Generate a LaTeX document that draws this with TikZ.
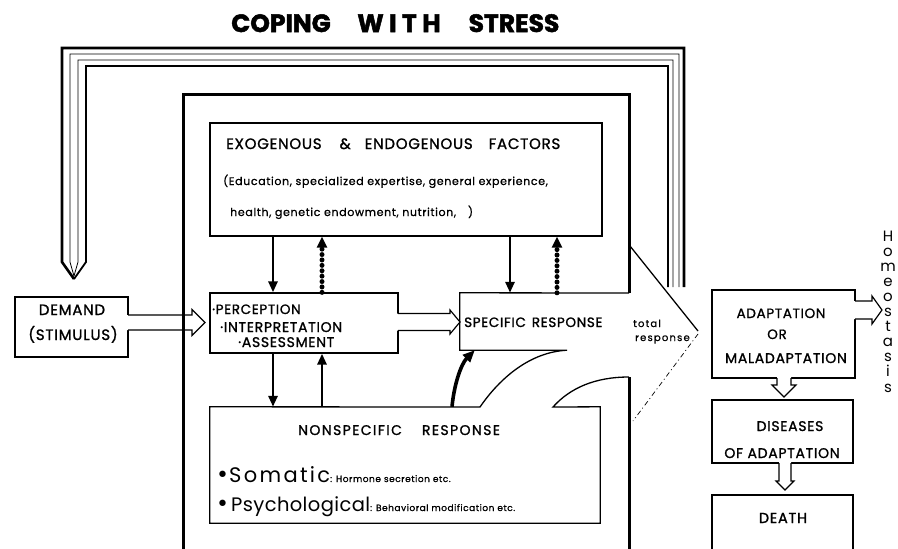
\documentclass[tikz,border=0pt]{standalone}
\usepackage{fontspec}
\setmainfont{Poppins}
\newfontfamily\capsA[LetterSpace=5,FakeBold=1.2]{Poppins}
\newfontfamily\capsB[LetterSpace=10,FakeBold=1.2]{Poppins}
\newfontfamily\smallA[LetterSpace=6,FakeBold=0.8]{Poppins}
\newfontfamily\smallB[LetterSpace=12,FakeBold=0.6]{Poppins}
\newfontfamily\bigA[LetterSpace=11]{Poppins}
\newfontfamily\bigB[LetterSpace=2]{Poppins}
\newfontfamily\bulletfont{DejaVu Sans}
\newfontfamily\heavy[BoldFeatures={FakeBold=2}]{Poppins}
\newfontfamily\heavyW[LetterSpace=22,BoldFeatures={FakeBold=2,LetterSpace=22}]{Poppins}
\usetikzlibrary{arrows.meta,fit}
\newcommand\fsz[1]{\fontsize{#1}{#1}\selectfont}
\newcommand\bul{{\bulletfont\fsz{22}•}}
% horizontal hollow arrow: x0, xtip, y, half band, half head, head length
\newcommand\hollowH[6]{%
  \fill[white] ({#1-1},{#3-#4}) -- ({#2-#6},{#3-#4}) -- ({#2-#6},{#3-#5}) -- (#2,#3) -- ({#2-#6},{#3+#5}) -- ({#2-#6},{#3+#4}) -- ({#1-1},{#3+#4}) -- cycle;
  \draw[hol] (#1,{#3-#4}) -- ({#2-#6},{#3-#4}) -- ({#2-#6},{#3-#5}) -- (#2,#3) -- ({#2-#6},{#3+#5}) -- ({#2-#6},{#3+#4}) -- (#1,{#3+#4});}
% vertical hollow arrow: x, y0, ytip, half band, half head, head length
\newcommand\hollowV[6]{%
  \fill[white] ({#1-#4},{#2-1}) -- ({#1-#4},{#3-#6}) -- ({#1-#5},{#3-#6}) -- (#1,#3) -- ({#1+#5},{#3-#6}) -- ({#1+#4},{#3-#6}) -- ({#1+#4},{#2-1}) -- cycle;
  \draw[hol] ({#1-#4},#2) -- ({#1-#4},{#3-#6}) -- ({#1-#5},{#3-#6}) -- (#1,#3) -- ({#1+#5},{#3-#6}) -- ({#1+#4},{#3-#6}) -- ({#1+#4},#2);}
\begin{document}
\begin{tikzpicture}[x=1pt,y=-1pt,
  box/.style={draw, line width=1.3pt, inner sep=0pt},
  ln/.style={line width=1.3pt, line join=miter},
  frame/.style={line width=3pt},
  tx/.style={inner sep=0pt, anchor=base},
  txw/.style={inner sep=0pt, anchor=base west},
  sarr/.style={line width=2.8pt, -{Triangle[width=9pt,length=11pt]}},
  barr/.style={line width=5pt, line cap=round, dash pattern=on 0pt off 5.4pt, -{Triangle[width=10pt,length=11pt]}},
  hol/.style={line width=1.2pt, line join=miter},
]
\useasboundingbox (0,0) rectangle (898,549);
\clip (0,0) rectangle (898,549);
\fill[white] (0,0) rectangle (898,549);

% title
\node[tx] (t1) at (281,32) {\heavy\fsz{25}\bfseries COPING};
\node[tx] (t2) at (399,32) {\heavyW\fsz{25}\bfseries WITH};
\node[tx] (t3) at (514,32) {\heavy\fsz{25}\bfseries STRESS};

% feedback band
\draw[line width=2.6pt] (684,287) -- (684,48) -- (62,48) -- (62,262) -- (74,279);
\draw[line width=0.8pt] (679,287) -- (679,54) -- (70,54) -- (70,262) -- (74,276);
\draw[line width=0.8pt] (673,287) -- (673,60) -- (78,60) -- (78,262) -- (74,276);
\draw[line width=1.8pt] (668,287) -- (668,66) -- (86,66) -- (86,262) -- (74,279);

% boxes
\node[box, fit={(210,123)(602,236)}] (exo) {};
\node[box, fit={(15,297)(128,357)}] (demand) {};
\node[box, fit={(210,293)(398,353)}] (perc) {};
\node[inner sep=0pt, fit={(460,293)(567,350)}] (spec) {};
\node[inner sep=0pt, fit={(210,407)(600,523)}] (nons) {};
\node[box, fit={(712,290)(855,378)}] (adapt) {};
\node[box, fit={(712,400)(853,463)}] (dis) {};
\node[box, fit={(712,495)(853,560)}] (death) {};

% specific response / total response shape and nonspecific box
\draw[ln] (629,293) -- (spec.north west) -- (spec.south west) -- (spec.south east)
  .. controls (530,352) and (500,378) .. (480,407) -- (nons.north west) -- (nons.south west)
  -- (nons.south east) -- (nons.north east) -- (553,407) .. controls (570,388) and (595,377) .. (629,377);
\draw[ln] (630,246) -- (698,331);
\draw[line width=0.7pt, dash pattern=on 5pt off 3pt on 1pt off 3pt] (698,334) -- (633,421);

% hollow arrows
\hollowH{128}{205}{322.5}{7.5}{13}{13}
\hollowH{398}{460}{322}{8.5}{12}{10}
\hollowH{855}{882}{310}{9}{14}{10}
\hollowV{784}{378}{397}{7}{12}{12}
\hollowV{785}{463}{490}{6}{9}{9}

% thick frame
\draw[frame] (183,549) -- (183,94) -- (629,94) -- (629,293);
\draw[frame] (629,377) -- (629,549);

% vertical arrows
\coordinate (xa) at (273,0);
\coordinate (xb) at (322,0);
\coordinate (xc) at (510,0);
\coordinate (xd) at (557,0);
\coordinate (xe) at (452,0);
\draw[sarr] (xa |- exo.south) -- (xa |- perc.north);
\draw[barr] (xb |- perc.north) -- (xb |- exo.south);
\draw[sarr] (xc |- exo.south) -- (xc |- spec.north);
\draw[barr] (xd |- spec.north) -- (xd |- exo.south);
\draw[sarr] (xa |- perc.south) -- (xa |- nons.north);
\draw[sarr] (xb |- nons.north) -- (xb |- perc.south);
\draw[line width=3.6pt, -{Triangle[width=10pt,length=12pt]}] (xe |- nons.north) .. controls (454,385) and (461,364) .. ([xshift=15pt]spec.south west);

% texts
\node[txw] (e1) at (226,149) {\capsA\fsz{15}EXOGENOUS\hspace{18pt}\&\hspace{14pt}ENDOGENOUS\hspace{16pt}FACTORS};
\node[txw] (e2) at (223,185) {\smallA\fsz{11}(Education, specialized expertise, general experience,};
\node[txw] (e3) at (230,216) {\smallA\fsz{11}health, genetic endowment, nutrition,\hspace{12pt})};

\node[tx] (d1) at (72,315) {\capsA\fsz{15}DEMAND};
\node[tx] (d2) at (73,340) {\capsA\fsz{15}(STIMULUS)};

\node[txw] (p1) at (212,314) {\capsA\fsz{13.5}·PERCEPTION};
\node[txw] (p2) at (220,332) {\capsA\fsz{14}·INTERPRETATION};
\node[txw] (p3) at (238,347) {\capsA\fsz{14}·ASSESSMENT};

\node[txw] (s1) at (464,327) {\capsA\fsz{13.5}SPECIFIC\hspace{6pt}RESPONSE};
\node[txw] (r1) at (633,327) {\smallB\fsz{10}total};
\node[txw] (r2) at (635,341) {\smallB\fsz{10}response};

\node[txw] (n1) at (298,435) {\capsB\fsz{14}NONSPECIFIC\hspace{20pt}RESPONSE};
\node[txw] (n2) at (216,482) {\bul\bigA\fsz{21}Somatic\smallA\fsz{9}: Hormone secretion etc.};
\node[txw] (n3) at (216,511) {\bul\hspace{2pt}\bigB\fsz{19.5}Psychological\smallA\fsz{9}: Behavioral modification etc.};

\node[tx] (a1) at (781,318) {\capsA\fsz{13.5}ADAPTATION};
\node[tx] (a2) at (777,339) {\capsA\fsz{13.5}OR};
\node[tx] (a3) at (786,363) {\capsA\fsz{14}MALADAPTATION};
\node[tx] (a4) at (790,431) {\capsA\fsz{14}DISEASES};
\node[tx] (a5) at (782,458) {\capsA\fsz{14}OF ADAPTATION};
\node[tx] (a6) at (783,523) {\capsA\fsz{14.5}DEATH};

\foreach \c [count=\i from 0] in {H,o,m,e,o,s,t,a,s,i,s}
  \node[tx] (h\i) at (888,{241+15.1*\i}) {\fsz{15}\c};
\end{tikzpicture}
\end{document}
